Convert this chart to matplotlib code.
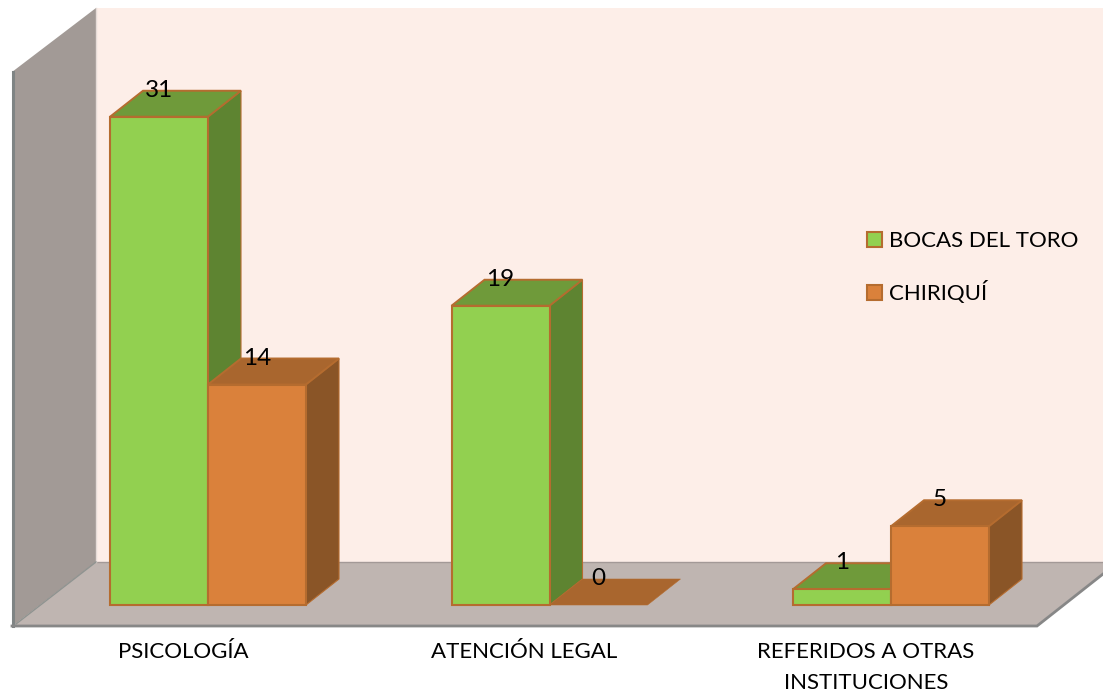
import matplotlib
matplotlib.use('Agg')
import matplotlib.pyplot as plt
from matplotlib.patches import Polygon, Patch

categories = ['PSICOLOGÍA', 'ATENCIÓN LEGAL', 'REFERIDOS A OTRAS\nINSTITUCIONES']
series_names = ['BOCAS DEL TORO', 'CHIRIQUÍ']
bocas = [31, 19, 1]
chiriqui = [14, 0, 5]

W, H = 1103, 696
PX_X = 341.5      # pixels per category
PX_Y = 15.75      # pixels per unit
X0, Y0 = 208, 605 # pixel of first category centre / baseline
bar_w = 98 / PX_X
dx = 33 / PX_X
dy = 26 / PX_Y

plt.rcParams['font.family'] = ['Lato', 'DejaVu Sans']

fig = plt.figure(figsize=(W / 100, H / 100), dpi=100)
ax = fig.add_axes([0, 0, 1, 1])
ax.set_xlim(-X0 / PX_X, (W - X0) / PX_X)
ax.set_ylim((Y0 - H) / PX_Y, Y0 / PX_Y)
ax.axis('off')


def p(px, py):
    # pixel position of the picture to data units, only for the walls
    return ((px - X0) / PX_X, (Y0 - py) / PX_Y)


def wall(points, color, **kw):
    ax.add_patch(Polygon([p(*q) for q in points], closed=True, facecolor=color, **kw))


# walls and floor
wall([(96, 8), (1103, 8), (1103, 562), (96, 562)], '#FDEEE8', edgecolor='none', zorder=1)
wall([(12, 72), (96, 8), (96, 562), (14, 625), (12, 625)], '#A29A96', edgecolor='none', zorder=1)
wall([(96, 562), (1103, 562), (1103, 573), (1037, 625), (14, 625)], '#BFB5B1', edgecolor='none', zorder=1)
ax.plot(*zip(p(96, 562), p(1103, 562)), color='#A39997', lw=1, zorder=2)
ax.plot(*zip(p(96, 8), p(96, 562)), color='#E6DCD8', lw=1, zorder=2)
ax.plot(*zip(p(96, 562), p(16, 624)), color='#8F9390', lw=1, zorder=2)
ax.plot(*zip(p(12.5, 72), p(12.5, 626)), color='#7F8484', lw=2.2, zorder=2)
ax.plot(*zip(p(12, 626), p(1037, 626), p(1103, 574)), color='#878787', lw=2, zorder=2,
        solid_joinstyle='miter')

edge = '#B56C2F'
greens = ('#92D050', '#6F9A3A', '#5E8431')
oranges = ('#DA813B', '#A9662E', '#8A5527')


def draw_bar(x, val, cols, z):
    front, top, side = cols
    if val > 0:
        ax.add_patch(Polygon([(x + bar_w, 0), (x + bar_w + dx, dy), (x + bar_w + dx, val + dy), (x + bar_w, val)],
                             facecolor=side, edgecolor=edge, lw=0.8, zorder=z))
    ax.add_patch(Polygon([(x, val), (x + dx, val + dy), (x + bar_w + dx, val + dy), (x + bar_w, val)],
                         facecolor=top, edgecolor=edge, lw=1.4 if val > 0 else 0.4, zorder=z))
    if val > 0:
        ax.bar(x, val, width=bar_w, align='edge', color=front, edgecolor=edge, lw=1.5, zorder=z + 0.5)
    ax.text(x + bar_w / 2, val + dy + 0.02, str(val), ha='center', va='center', fontsize=17.5, color='black', zorder=20)


for i, cat in enumerate(categories):
    draw_bar(i - bar_w, bocas[i], greens, 5)
    draw_bar(i, chiriqui[i], oranges, 7)
    ax.text(i - 25 / PX_X, (Y0 - 642.5) / PX_Y, cat, ha='center', va='top', fontsize=16,
            linespacing=1.68, color='black')

handles = [Patch(facecolor=greens[0], edgecolor=edge, lw=1.5),
           Patch(facecolor=oranges[0], edgecolor=edge, lw=1.5)]
ax.legend(handles, series_names, loc='upper left', bbox_to_anchor=(867 / W, 1 - 231 / H),
          bbox_transform=fig.transFigure, frameon=False, fontsize=16, handlelength=0.68,
          handleheight=0.68, handletextpad=0.33, labelspacing=1.35, borderpad=0, borderaxespad=0,
          labelcolor='black')

plt.savefig('out.png', dpi=100)
